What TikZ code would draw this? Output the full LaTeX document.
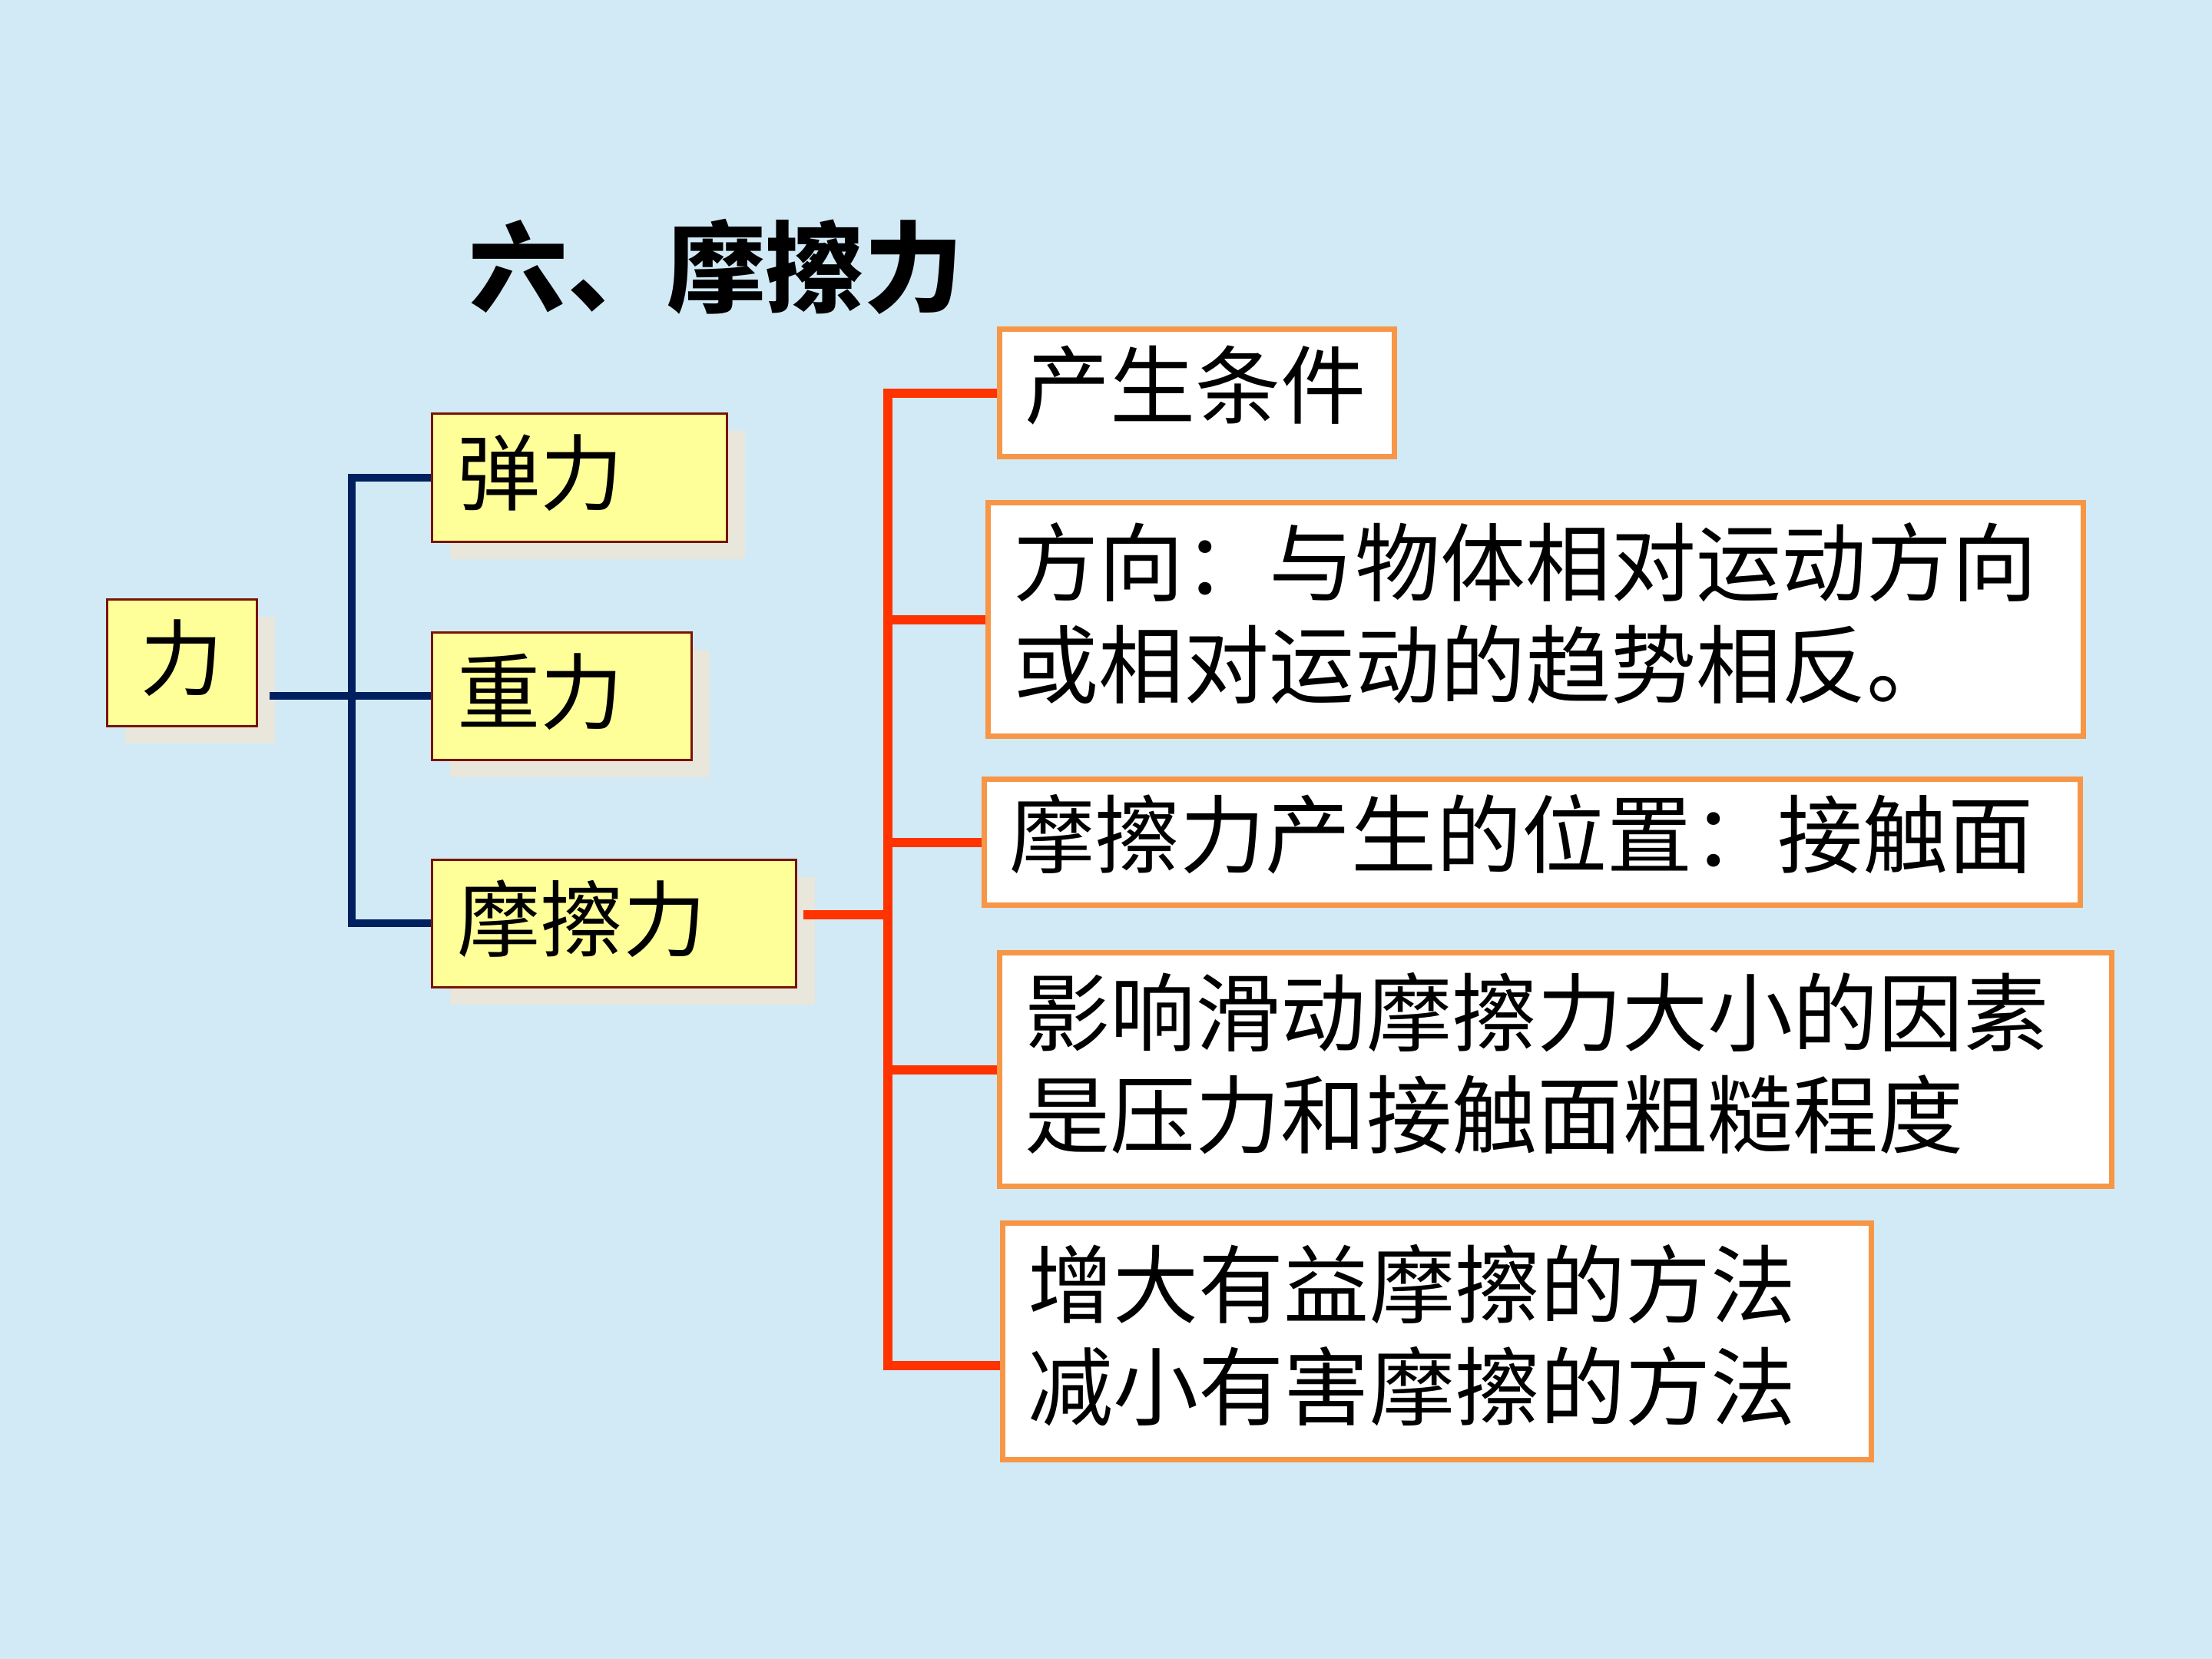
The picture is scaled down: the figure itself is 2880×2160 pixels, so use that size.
\documentclass[tikz,border=0pt]{standalone}
\usepackage{fontspec}
\setmainfont{Noto Sans CJK SC}
\usetikzlibrary{shadows}
\definecolor{bgc}{HTML}{D1EAF5}
\definecolor{yfill}{HTML}{FFFF99}
\definecolor{ybord}{HTML}{7A1405}
\definecolor{shc}{HTML}{E9E6DC}
\definecolor{orng}{HTML}{F79646}
\definecolor{redc}{HTML}{FF3300}
\definecolor{navy}{HTML}{002060}
\newcommand\mytitlefont{\fontsize{36.6}{42}\selectfont\bfseries}
\newcommand\myleftfont{\fontsize{30.8}{37}\selectfont}
\newcommand\myboxfont{\fontsize{31.6}{38}\selectfont}
\tikzset{
  ybox/.style={draw=ybord, fill=yfill, line width=0.025cm, anchor=north west,
    inner xsep=0.33cm, inner ysep=0pt, align=left, font=\myleftfont, text depth=0.21cm,
    drop shadow={shadow xshift=0.24cm, shadow yshift=-0.23cm, fill=shc, opacity=1}},
  obox/.style={draw=orng, fill=white, line width=0.07cm, anchor=north west,
    inner xsep=0.33cm, inner ysep=0pt, align=left, font=\myboxfont, text depth=0.30cm},
  twoline/.style={text depth=1.59cm},
  blueline/.style={draw=navy, line width=0.10cm},
  redline/.style={draw=redc, line width=0.12cm}
}
\begin{document}
\begin{tikzpicture}[x=0.01cm,y=-0.01cm]
\fill[bgc] (0,0) rectangle (2880,2160);
\useasboundingbox (0,0) rectangle (2880,2160);

% title
\node[anchor=west, inner sep=0pt, font=\mytitlefont] (title) at (610,347) {六、摩擦力};

% left yellow boxes
\node[ybox, align=center, inner xsep=0pt, minimum width=1.95cm, minimum height=1.65cm] (li) at (138,779) {力};
\node[ybox, text width=3.18cm, minimum width=3.84cm, minimum height=1.67cm] (tan) at (561,537) {弹力};
\node[ybox, text width=2.72cm, minimum width=3.38cm, minimum height=1.66cm] (zhong) at (561,822) {重力};
\node[ybox, text width=4.08cm, minimum width=4.74cm, minimum height=1.66cm] (mcl) at (561,1118) {摩擦力};

% right orange boxes
\node[obox, text width=4.48cm, minimum width=5.14cm, minimum height=1.66cm] (c1) at (1298,425) {产生条件};
\node[obox, twoline, text width=13.59cm, minimum width=14.25cm, minimum height=3.04cm] (c2) at (1283,651) {方向：与物体相对运动方向\\或相对运动的趋势相反。};
\node[obox, text width=13.60cm, minimum width=14.26cm, minimum height=1.64cm] (c3) at (1278,1011) {摩擦力产生的位置：接触面};
\node[obox, twoline, text width=13.81cm, minimum width=14.47cm, minimum height=3.04cm] (c4) at (1298,1237) {影响滑动摩擦力大小的因素\\是压力和接触面粗糙程度};
\node[obox, twoline, text width=10.64cm, minimum width=11.30cm, minimum height=3.08cm] (c5) at (1302,1589) {增大有益摩擦的方法\\减小有害摩擦的方法};

% blue connectors
\coordinate (bx) at (458,900);
\draw[blueline] (tan.west) -- (tan.west -| bx) -- (mcl.west -| bx) -- (mcl.west);
\draw[blueline] ([xshift=0.15cm]li.east |- zhong.west) -- (zhong.west);

% red connectors
\coordinate (rx) at (1156,900);
\coordinate (c5ln) at ([yshift=-0.31cm]c5.west);
\draw[redline] (c1.west) -- (c1.west -| rx) -- (c5ln -| rx) -- (c5ln);
\draw[redline] (c2.west -| rx) -- (c2.west);
\draw[redline] (c3.west -| rx) -- (c3.west);
\draw[redline] (c4.west -| rx) -- (c4.west);
\draw[redline] ([xshift=0.08cm,yshift=0.11cm]mcl.east) -- ([yshift=0.11cm]mcl.east -| rx);
\end{tikzpicture}
\end{document}
